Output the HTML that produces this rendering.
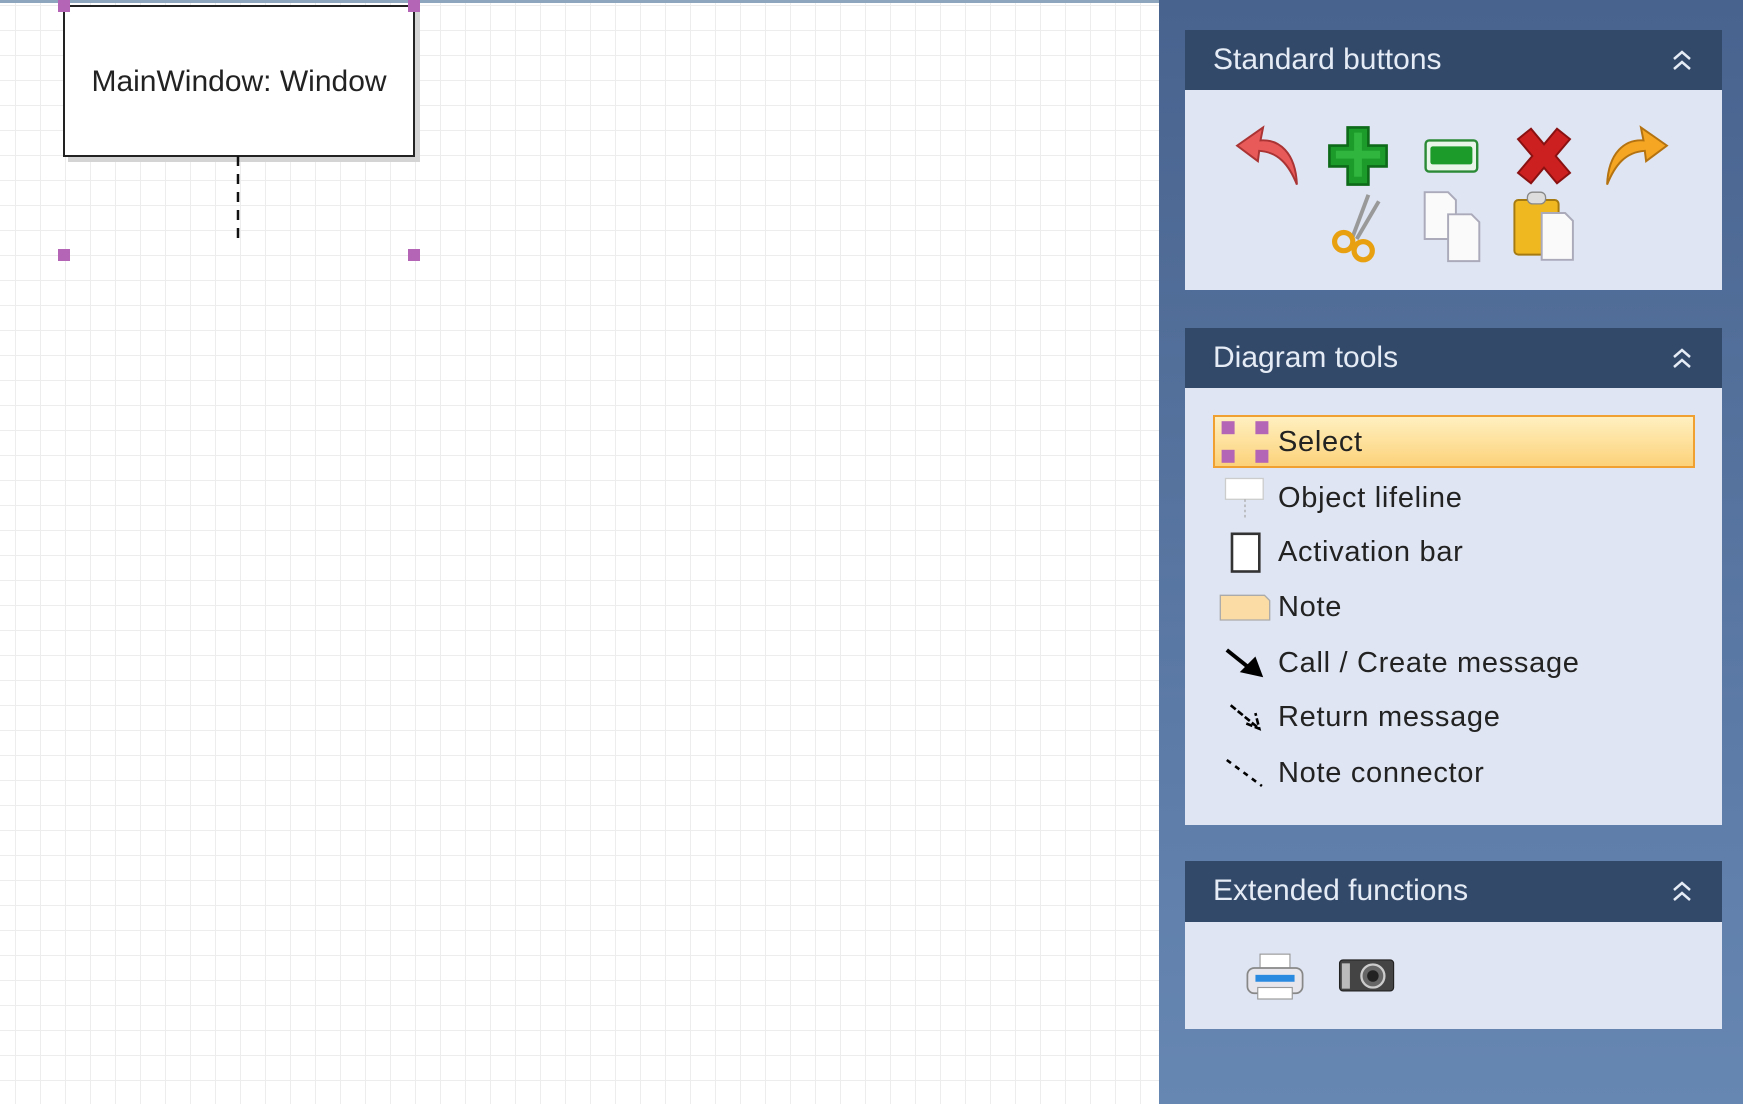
<!DOCTYPE html>
<html><head><meta charset="utf-8"><style>
html,body{margin:0;padding:0}
body{width:1743px;height:1104px;position:relative;overflow:hidden;background:#fff;font-family:"Liberation Sans",sans-serif}
#canvas{position:absolute;left:0;top:0;width:1159px;height:1104px;
background-color:#fff;
background-image:linear-gradient(to right,#ededed 1px,transparent 1px),linear-gradient(to bottom,#ededed 1px,transparent 1px);
background-size:25px 25px;background-position:15px 5px}
#topline{position:absolute;left:0;top:0;width:1743px;height:3px;background:#8fa6bf}
.box{position:absolute;left:63px;top:5px;width:348px;height:148px;border:2px solid #222;background:#fff;box-shadow:5px 5px 0 #d4d4d4;font-size:30px;color:#222;text-align:center;line-height:150px}
.h{position:absolute;width:12px;height:12px;background:#b565b5}
#panel{position:absolute;left:1159px;top:0;width:584px;height:1104px;background:linear-gradient(#48638e,#6787b3)}
.hdr{position:absolute;left:1185px;width:537px;background:#33496a;color:#e6ecf5;font-size:30px}
.hdr span{position:absolute;left:28px}
.hdr svg{position:absolute;left:486px}
.bdy{position:absolute;left:1185px;width:537px;background:#dfe5f2}
.it{position:absolute;left:1278px;font-size:29px;color:#222;letter-spacing:0.7px;line-height:34px}
.ic{position:absolute}
</style></head><body>
<div id="canvas"></div>
<div id="topline"></div>
<div class="box">MainWindow: Window</div>
<svg style="position:absolute;left:0;top:0" width="500" height="300"><line x1="238" y1="156" x2="238" y2="243" stroke="#111" stroke-width="2.5" stroke-dasharray="10,8"/></svg>
<div class="h" style="left:58px;top:0"></div><div class="h" style="left:408px;top:0"></div>
<div class="h" style="left:58px;top:249px"></div><div class="h" style="left:408px;top:249px"></div>

<div id="panel"></div>
<div class="hdr" style="top:30px;height:60px"><span style="top:13px">Standard buttons</span><svg style="top:18px" width="22" height="24"><path d="M3 11l8-7 8 7M3 21l8-7 8 7" stroke="#e6ecf5" stroke-width="2.5" fill="none"/></svg></div>
<div class="bdy" style="top:90px;height:200px"></div>
<div class="hdr" style="top:328px;height:60px"><span style="top:13px">Diagram tools</span><svg style="top:18px" width="22" height="24"><path d="M3 11l8-7 8 7M3 21l8-7 8 7" stroke="#e6ecf5" stroke-width="2.5" fill="none"/></svg></div>
<div class="bdy" style="top:388px;height:437px"></div>
<div class="hdr" style="top:861px;height:61px"><span style="top:13px">Extended functions</span><svg style="top:18px" width="22" height="24"><path d="M3 11l8-7 8 7M3 21l8-7 8 7" stroke="#e6ecf5" stroke-width="2.5" fill="none"/></svg></div>
<div class="bdy" style="top:922px;height:107px"></div>

<svg class="ic" style="left:0;top:0" width="1743" height="1104">
<g transform="translate(1267,156) scale(1.3) translate(-1253,-158)">
<path d="M1276 180 C1275 155 1262 145 1248 146 L1250 136 L1230 150 L1246 162 L1247 154 C1262 155 1270 165 1276 180Z" fill="#e85a5a" stroke="#a33" stroke-width="1.5"/></g>
<g transform="translate(1358,156) scale(1.3) translate(-1335,-155)">
<path d="M1327 133h16v14h14v16h-14v14h-16v-14h-14v-16h14z" fill="#1c9a2a" stroke="#0d6a18" stroke-width="2"/>
<path d="M1332 137h6v14h14v6h-14v14h-6v-14h-14v-6h14z" fill="#30b53e"/></g>
<g transform="translate(1452,156) scale(1.2) translate(-1417,-157)">
<rect x="1395" y="144" width="43" height="26" rx="3" fill="#eaf5ea" stroke="#2a8a35" stroke-width="2"/>
<rect x="1399" y="149" width="35" height="15" rx="2" fill="#1c9a2a"/></g>
<g transform="translate(1544,156) scale(1.3) translate(-1498,-155)">
<path d="M1478 142l10-8 10 12 10-12 10 8-11 13 11 13-10 8-10-12-10 12-10-8 11-13z" fill="#cc1f1f" stroke="#8a1111" stroke-width="1.5"/></g>
<g transform="translate(1637,156) scale(1.3) translate(-1592,-158)">
<path d="M1569 180 C1570 155 1583 145 1597 146 L1595 136 L1615 150 L1599 162 L1598 154 C1583 155 1575 165 1569 180Z" fill="#f5a623" stroke="#b47310" stroke-width="1.5"/></g>
<g transform="translate(1358,226) scale(1.3) translate(-1337,-222)">
<line x1="1345" y1="198" x2="1333" y2="230" stroke="#999" stroke-width="3"/>
<line x1="1353" y1="203" x2="1336" y2="232" stroke="#999" stroke-width="3"/>
<circle cx="1326" cy="234" r="7" fill="none" stroke="#e8a010" stroke-width="4"/>
<circle cx="1341" cy="241" r="7" fill="none" stroke="#e8a010" stroke-width="4"/></g>
<g transform="translate(1452,226) scale(1.3) translate(-1416,-223)">
<path d="M1395 197h18l6 6v30h-24z" fill="#fafafa" stroke="#aab" stroke-width="1.5"/>
<path d="M1413 214h18l6 6v30h-24z" fill="#fafafa" stroke="#aab" stroke-width="1.5"/></g>
<g transform="translate(1543,226) scale(1.3) translate(-1496,-224)">
<rect x="1474" y="204" width="34" height="42" rx="3" fill="#f0b820" stroke="#a57a10" stroke-width="1.5"/>
<rect x="1484" y="198" width="14" height="9" rx="4" fill="#ddd" stroke="#888"/>
<path d="M1495 214h18l6 6v30h-24z" fill="#fafafa" stroke="#aab" stroke-width="1.5"/></g>
</svg>

<div style="position:absolute;left:1213px;top:415px;width:478px;height:49px;border:2px solid #f0a030;background:linear-gradient(#fff0c0,#fcd27a)"></div>
<div class="it" style="top:425px">Select</div>
<div class="it" style="top:481px">Object lifeline</div>
<div class="it" style="top:535px">Activation bar</div>
<div class="it" style="top:590px">Note</div>
<div class="it" style="top:646px">Call / Create message</div>
<div class="it" style="top:700px">Return message</div>
<div class="it" style="top:756px">Note connector</div>

<svg class="ic" style="left:0;top:0" width="1743" height="1104">
<g transform="translate(1245,442) scale(1.3) translate(-1243,-432)">
<rect x="1225" y="416" width="10" height="10" fill="#b565b5"/><rect x="1251" y="416" width="10" height="10" fill="#b565b5"/>
<rect x="1225" y="438" width="10" height="10" fill="#b565b5"/><rect x="1251" y="438" width="10" height="10" fill="#b565b5"/></g>
<g transform="translate(1245,498) scale(1.3) translate(-1244,-473)">
<rect x="1229" y="458" width="29" height="16" fill="#fff" stroke="#ccc"/>
<line x1="1244" y1="474" x2="1244" y2="488" stroke="#aaa" stroke-dasharray="2,2"/></g>
<g transform="translate(1245,552) scale(1.3) translate(-1243,-512)">
<rect x="1233" y="498" width="21" height="29" fill="#fff" stroke="#333" stroke-width="2"/></g>
<g transform="translate(1245,607) scale(1.3) translate(-1245,-552)">
<path d="M1226 543h34l4 4v15h-38z" fill="#fbdca4" stroke="#aaa"/></g>
<g transform="translate(1245,663) scale(1.3) translate(-1244,-596)">
<line x1="1230" y1="586" x2="1250" y2="602" stroke="#000" stroke-width="3"/>
<path d="M1258 607l-18-4 12-12z" fill="#000"/></g>
<g transform="translate(1245,717) scale(1.3) translate(-1244,-636)">
<path d="M1233 627l22 18M1245 641l10 4-3-12" stroke="#000" stroke-width="2" fill="none" stroke-dasharray="5,2"/></g>
<g transform="translate(1245,773) scale(1.3) translate(-1243,-676)">
<line x1="1229" y1="666" x2="1256" y2="686" stroke="#000" stroke-width="2" stroke-dasharray="4,4"/></g>
<g transform="translate(1275,976) scale(1.15) translate(-1260,-827)">
<rect x="1247" y="808" width="26" height="16" fill="#fff" stroke="#999"/>
<rect x="1236" y="820" width="48" height="22" rx="6" fill="#e6e6ec" stroke="#888" stroke-width="1.5"/>
<rect x="1243" y="826" width="34" height="6" fill="#2a8ae0"/>
<rect x="1245" y="837" width="30" height="10" fill="#fff" stroke="#999"/></g>
<g transform="translate(1366,976) scale(1.15) translate(-1341,-828)">
<rect x="1318" y="814" width="47" height="27" rx="3" fill="#444" stroke="#222"/>
<rect x="1320" y="817" width="7" height="22" fill="#bbb"/>
<circle cx="1347" cy="828" r="10" fill="#666" stroke="#ccc" stroke-width="2"/>
<circle cx="1347" cy="828" r="5" fill="#222"/></g>
</svg>
</body></html>
